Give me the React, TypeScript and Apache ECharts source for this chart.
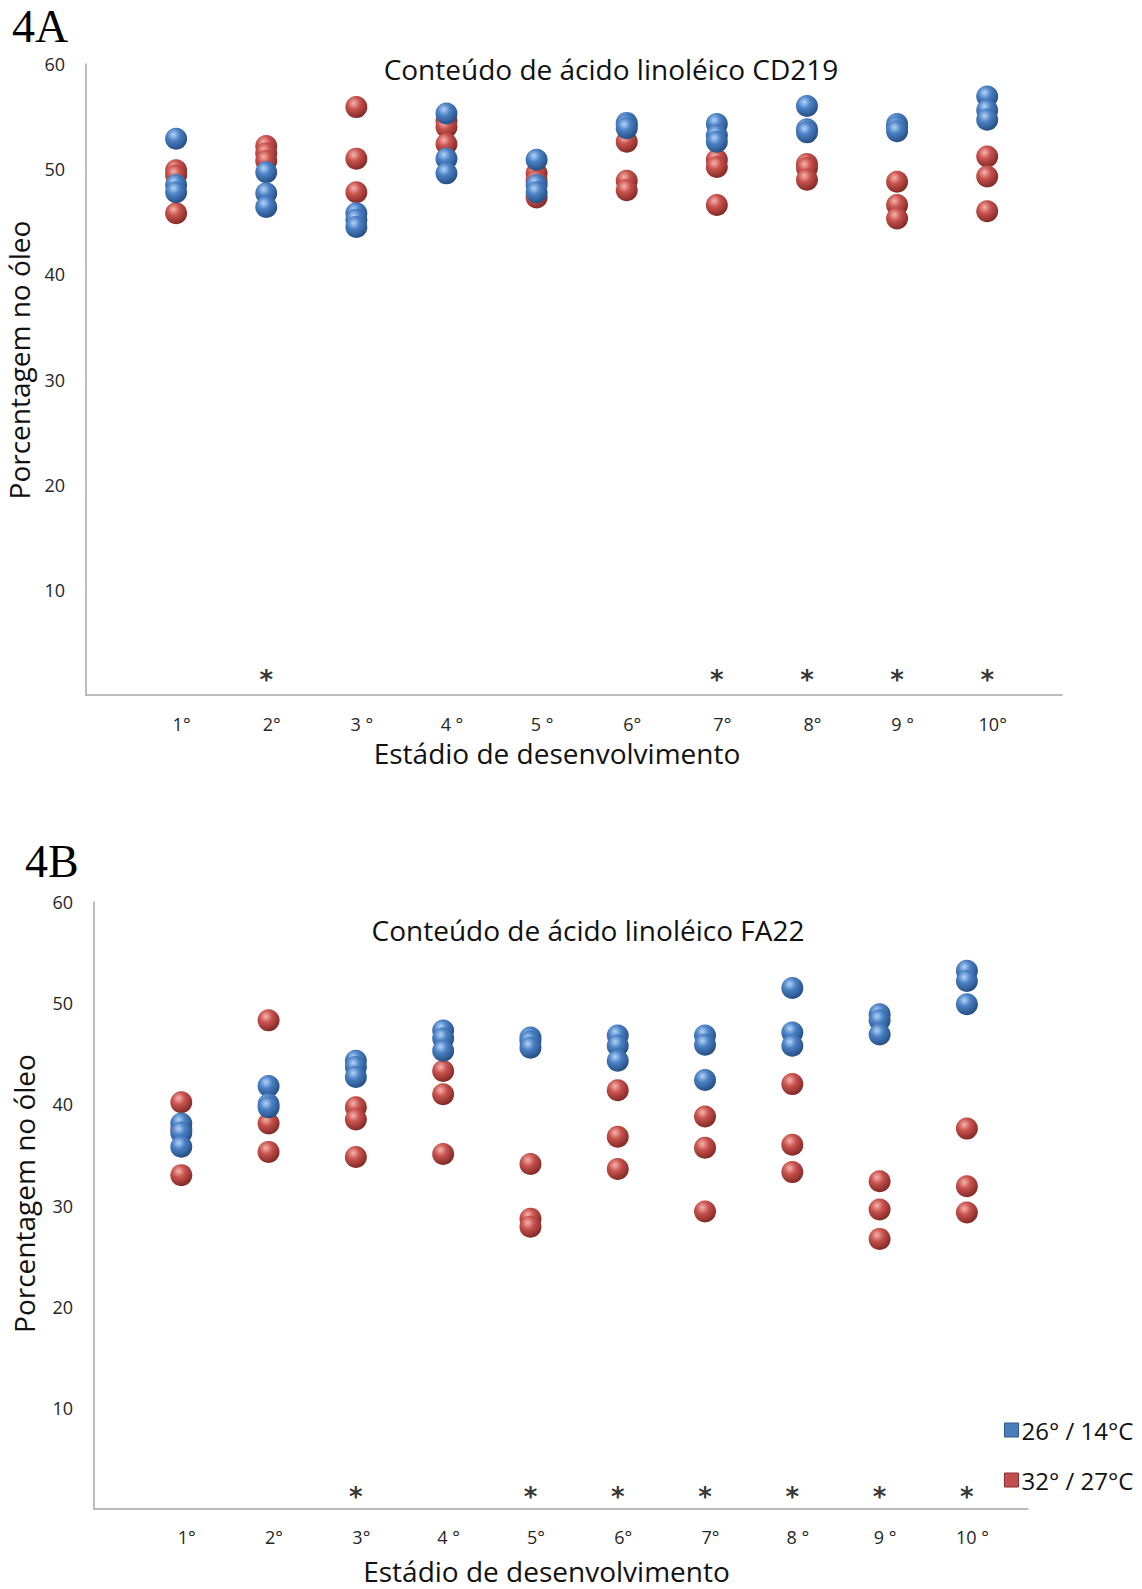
import React, { useEffect, useRef } from "react";
import * as echarts from "echarts";

// ---- data ----
const stagesA = ["1°", "2°", "3 °", "4 °", "5 °", "6°", "7°", "8°", "9 °", "10°"];
const stagesB = ["1°", "2°", "3°", "4 °", "5°", "6°", "7°", "8 °", "9 °", "10 °"];

const seriesBlueName = "26° / 14°C";
const seriesRedName = "32° / 27°C";

// CD219 (4A) – three replicates per stage
const cd219Blue: number[][] = [
  [52.9, 48.5, 47.8],
  [49.7, 47.7, 46.4],
  [45.8, 45.2, 44.5],
  [55.3, 51.0, 49.6],
  [50.9, 48.5, 47.8],
  [54.4, 54.2, 53.9],
  [54.3, 53.2, 52.6],
  [56.0, 53.8, 53.5],
  [54.3, 54.0, 53.6],
  [56.9, 55.6, 54.7],
];
const cd219Red: number[][] = [
  [49.9, 49.4, 45.8],
  [52.2, 51.5, 50.8],
  [55.9, 51.0, 47.8],
  [54.6, 54.0, 52.4],
  [49.6, 48.9, 47.3],
  [52.6, 48.9, 48.0],
  [50.9, 50.2, 46.6],
  [50.5, 50.1, 49.0],
  [48.8, 46.6, 45.3],
  [51.2, 49.3, 46.0],
];

// FA22 (4B)
const fa22Blue: number[][] = [
  [38.1, 37.2, 35.8],
  [41.8, 40.0, 39.7],
  [44.3, 43.7, 42.7],
  [47.3, 46.5, 45.3],
  [46.6, 46.2, 45.6],
  [46.8, 45.8, 44.3],
  [46.8, 45.9, 42.4],
  [51.5, 47.1, 45.8],
  [48.9, 48.3, 46.9],
  [53.2, 52.2, 49.9],
];
const fa22Red: number[][] = [
  [40.2, 37.5, 33.0],
  [48.3, 38.1, 35.3],
  [39.7, 38.5, 34.8],
  [43.3, 41.0, 35.1],
  [34.1, 28.7, 27.9],
  [41.4, 36.8, 33.6],
  [38.8, 35.7, 29.4],
  [42.0, 36.0, 33.3],
  [32.4, 29.6, 26.7],
  [37.6, 31.9, 29.3],
];

// significance markers (stage numbers) and the height where the "*" sits
const sigStagesA = [2, 7, 8, 9, 10];
const sigStagesB = [3, 5, 6, 7, 8, 9, 10];
const sigLevelA = 2.0;
const sigLevelB = 1.8;

const titleA = "Conteúdo de ácido linoléico CD219";
const titleB = "Conteúdo de ácido linoléico FA22";
const yName = "Porcentagem no óleo";
const xName = "Estádio de desenvolvimento";

// ---- helpers ----
const toPoints = (groups: number[][]) =>
  groups.flatMap((vals, i) => vals.map((v) => [i + 1, v]));

const sphere = (hi: string, mid: string, lo: string) =>
  new echarts.graphic.RadialGradient(0.38, 0.32, 0.72, [
    { offset: 0, color: hi },
    { offset: 0.4, color: mid },
    { offset: 1, color: lo },
  ]);

const blueSphere = () => sphere("#b3d3f7", "#4a80c4", "#234a7d");
const redSphere = () => sphere("#f6b3ae", "#c8524d", "#7c2623");

const UI_FONT = "'Open Sans', 'DejaVu Sans', sans-serif";

export default function App() {
  const ref = useRef<HTMLDivElement>(null);

  useEffect(() => {
    if (!ref.current) return;
    const chart = echarts.init(ref.current, undefined, { renderer: "svg" });

    const yAxisCommon = (gap: number, lift: number) => ({
      type: "value" as const,
      min: 0,
      max: 60,
      interval: 10,
      splitLine: { show: false },
      axisTick: { show: false },
      axisLine: { show: true, lineStyle: { color: "#a6a6a6", width: 1.5 } },
      axisLabel: {
        margin: 21,
        color: "#262626",
        fontFamily: UI_FONT,
        fontSize: 18,
        formatter: (v: number) => (v === 0 ? "" : String(v)),
      },
      name: yName,
      nameLocation: "middle" as const,
      nameRotate: 90,
      nameGap: gap,
      nameTextStyle: { fontFamily: UI_FONT, fontSize: 28, lineHeight: 30, color: "#111", padding: [0, 0, 0, lift] },
    });

    const xAxisCommon = (labels: string[], max: number, margin: number, gap: number, shift: number) => ({
      type: "value" as const,
      min: 0,
      max,
      interval: 1,
      splitLine: { show: false },
      axisTick: { show: false },
      axisLine: { show: true, lineStyle: { color: "#a6a6a6", width: 1.5 } },
      axisLabel: {
        margin,
        color: "#262626",
        fontFamily: UI_FONT,
        fontSize: 18,
        padding: [0, 0, 0, 11],
        formatter: (v: number) =>
          labels[Math.round(v) - 1] && Math.abs(v - Math.round(v)) < 1e-6 ? labels[Math.round(v) - 1] : "",
      },
      name: xName,
      nameLocation: "middle" as const,
      nameGap: gap,
      nameTextStyle: { fontFamily: UI_FONT, fontSize: 28, lineHeight: 28, color: "#111", padding: [0, shift, 0, 0] },
    });

    const dots = (name: string, data: number[][], idx: number, color: any, z: number) => ({
      type: "scatter" as const,
      name,
      xAxisIndex: idx,
      yAxisIndex: idx,
      data,
      symbol: "circle",
      symbolSize: 22,
      z,
      itemStyle: { color, opacity: 1 },
      emphasis: { disabled: true },
    });

    const stars = (stagesList: number[], level: number, idx: number) => ({
      type: "scatter" as const,
      name: "significância",
      xAxisIndex: idx,
      yAxisIndex: idx,
      data: stagesList.map((s) => [s, level]),
      symbol: "circle",
      symbolSize: 1,
      itemStyle: { color: "rgba(0,0,0,0)" },
      label: {
        show: true,
        position: "inside",
        formatter: "*",
        fontFamily: "'DejaVu Sans', sans-serif",
        fontWeight: "bold",
        fontSize: 26,
        color: "#000",
        offset: [0, 6],
      },
      emphasis: { disabled: true },
      silent: true,
    });

    const panelLabel = (text: string, left: number, top: number) => ({
      text,
      left,
      top,
      padding: 0,
      textStyle: {
        fontFamily: "'Liberation Serif', serif",
        fontSize: 46,
        lineHeight: 38,
        fontWeight: "normal",
        color: "#000",
      },
    });

    chart.setOption({
      animation: false,
      backgroundColor: "#ffffff",
      title: [
        panelLabel("4A", 12, 7),
        panelLabel("4B", 25, 842),
        {
          text: titleA,
          left: 606,
          textAlign: "center",
          top: 50,
          textStyle: { fontFamily: UI_FONT, fontSize: 28, fontWeight: "normal", color: "#111" },
        },
        {
          text: titleB,
          left: 583,
          textAlign: "center",
          top: 911,
          textStyle: { fontFamily: UI_FONT, fontSize: 28, fontWeight: "normal", color: "#111" },
        },
      ],
      legend: {
        orient: "vertical",
        left: 999,
        top: 1413,
        itemGap: 26,
        itemWidth: 14,
        itemHeight: 14,
        icon: "rect",
        textStyle: { fontFamily: UI_FONT, fontSize: 24, color: "#111", padding: [0, 0, 0, -2] },
        data: [
          { name: seriesBlueName, itemStyle: { color: "#4a7ebb", borderColor: "#2c5a92", borderWidth: 1 } },
          { name: seriesRedName, itemStyle: { color: "#c0504d", borderColor: "#8c2f2c", borderWidth: 1 } },
        ],
      },
      grid: [
        { left: 86, top: 64, width: 976, height: 631, outerBoundsMode: "none", containLabel: false },
        { left: 94, top: 902, width: 934, height: 607, outerBoundsMode: "none", containLabel: false },
      ],
      xAxis: [
        { gridIndex: 0, ...xAxisCommon(stagesA, 10.83, 20, 44, 34) },
        { gridIndex: 1, ...xAxisCommon(stagesB, 10.7, 19, 48, 29) },
      ],
      yAxis: [
        { gridIndex: 0, ...yAxisCommon(46, 39) },
        { gridIndex: 1, ...yAxisCommon(55, 24) },
      ],
      series: [
        dots(seriesRedName, toPoints(cd219Red), 0, redSphere(), 2),
        dots(seriesBlueName, toPoints(cd219Blue), 0, blueSphere(), 3),
        stars(sigStagesA, sigLevelA, 0),
        dots(seriesRedName, toPoints(fa22Red), 1, redSphere(), 2),
        dots(seriesBlueName, toPoints(fa22Blue), 1, blueSphere(), 3),
        stars(sigStagesB, sigLevelB, 1),
      ],
    });

    return () => chart.dispose();
  }, []);

  return (
    <div
      ref={ref}
      style={{ position: "absolute", left: 0, top: 0, width: 1142, height: 1589, background: "#fff" }}
    />
  );
}
